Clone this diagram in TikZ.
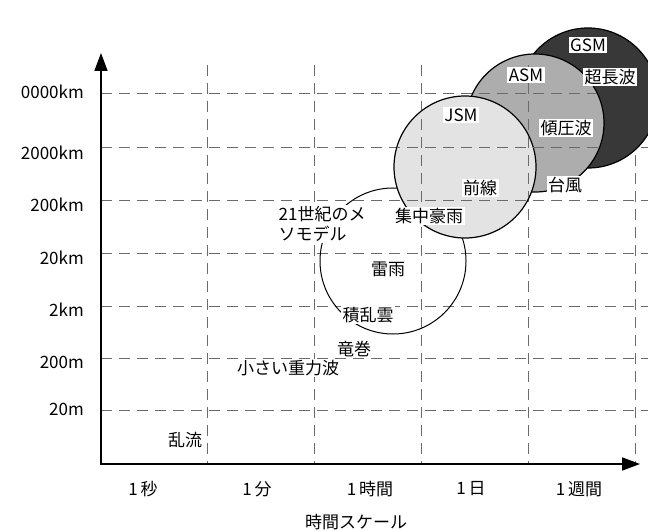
\documentclass[tikz,border=0pt]{standalone}
\usepackage{fontspec}
\setmainfont{Noto Sans CJK JP}
\usetikzlibrary{arrows.meta}
\begin{document}
\begin{tikzpicture}[x=1bp,y=-1bp,
  font=\fontsize{17bp}{20bp}\selectfont,
  gridline/.style={draw=black!58, line width=0.8bp, dash pattern=on 11bp off 7bp},
  lbl/.style={fill=white, inner sep=1.5bp},
  ylab/.style={anchor=east, inner sep=0pt},
  xlab/.style={inner sep=0pt},
  zone/.style={draw=black, line width=1.2bp},
  axisline/.style={line width=1.6bp, {Triangle[length=18bp,width=13bp]}-{Triangle[length=18bp,width=13bp]}}]
\useasboundingbox[fill=white] (0,0) rectangle (648,531);
% grid
\newcommand{\drawgrid}{%
  \foreach \y in {93,147,200,253,306,358,410} \draw[gridline] (101,\y) -- (648,\y);
  \foreach \x in {207,314,421,528,635} \draw[gridline] (\x,65) -- (\x,464);}
\drawgrid
% thunderstorm scale circle
\draw[line width=1bp] (393,261) circle[radius=73bp];
% model domains
\filldraw[zone, fill=black!78] (588,98) circle[radius=70bp];
\filldraw[zone, fill=black!32] (535,123) circle[radius=69bp];
\filldraw[zone, fill=black!11] (465,167) circle[radius=71bp];
\begin{scope}
  \clip (535,123) circle[radius=68.4bp];
  \drawgrid
\end{scope}
\begin{scope}
  \clip (465,167) circle[radius=70.4bp];
  \drawgrid
\end{scope}
% axes
\coordinate (o) at (101,464);
\coordinate (ytip) at (101,53);
\coordinate (xtip) at (640,464);
\draw[axisline] (ytip) -- (o) -- (xtip);
% labels in chart
\node[lbl] (gsm) at (588,45) {GSM};
\node[lbl] (chou) at (610,77) {超長波};
\node[lbl] (asm) at (526,75) {ASM};
\node[lbl] (jsm) at (461,115) {JSM};
\node[lbl] (keiatsu) at (566,128) {傾圧波};
\node[lbl] (zensen) at (480,188) {前線};
\node[lbl] (taifu) at (565,185) {台風};
\node[lbl] (shuchu) at (429,216) {集中豪雨};
\node[lbl, align=left, anchor=west] (meso) at (277,224) {21世紀のメ\\ソモデル};
\node[lbl] (raiu) at (388,269) {雷雨};
\node[lbl] (sekiran) at (368,315) {積乱雲};
\node[lbl] (tatsu) at (354,349) {竜巻};
\node[lbl] (juryoku) at (288,368) {小さい重力波};
\node[lbl] (ranryu) at (185,440) {乱流};
% y axis labels
\node[ylab] (y1) at (84,92) {0000km};
\node[ylab] (y2) at (84,153) {2000km};
\node[ylab] (y3) at (84,205) {200km};
\node[ylab] (y4) at (84,258) {20km};
\node[ylab] (y5) at (84,310) {2km};
\node[ylab] (y6) at (84,362) {200m};
\node[ylab] (y7) at (84,409) {20m};
% x axis labels
\node[xlab] (x1) at (143,489) {1\,秒};
\node[xlab] (x2) at (257,489) {1\,分};
\node[xlab] (x3) at (370,489) {1\,時間};
\node[xlab] (x4) at (471,489) {1\,日};
\node[xlab] (x5) at (579,489) {1\,週間};
\node[xlab] (xt) at (356,522) {時間スケール};
\end{tikzpicture}
\end{document}
